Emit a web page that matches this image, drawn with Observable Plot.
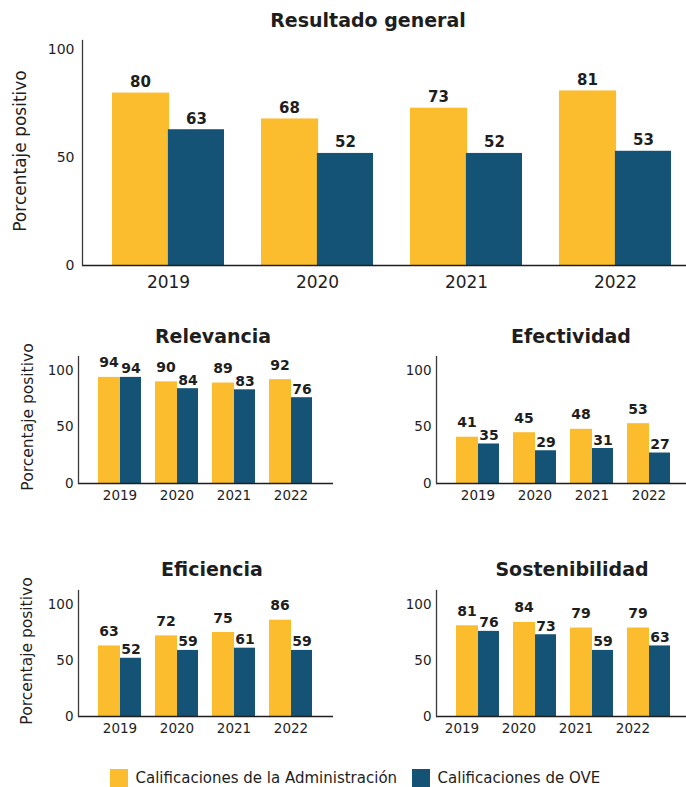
<!DOCTYPE html>
<html>
<head>
<meta charset="utf-8">
<script src="https://cdn.jsdelivr.net/npm/d3@7"></script>
<script src="https://cdn.jsdelivr.net/npm/@observablehq/plot@0.6"></script>
<style>
  html, body { margin: 0; padding: 0; background: #fff; }
  #page { position: relative; width: 686px; height: 787px; overflow: hidden;
          font-family: "DejaVu Sans", sans-serif; color: #1e1e1e; }
  .panel { position: absolute; }
  .title { position: absolute; font-weight: bold; font-size: 19px; white-space: nowrap;
           transform: translate(-50%, -50%); line-height: 1; }
  .ylabel { position: absolute; white-space: nowrap; line-height: 1;
            transform: translate(-50%, -50%) rotate(-90deg); }
  #legend { position: absolute; left: 110px; top: 761px; }
</style>
</head>
<body>
<div id="page"></div>
<script>
// Survey years and the two rating sources
const years = ["2019", "2020", "2021", "2022"];
const series = ["Calificaciones de la Administración", "Calificaciones de OVE"];
const colors = ["#FBBC2D", "#145375"];
const yTicks = [0, 50, 100];

// Percentage of positive ratings per year
const generalAdmin = [80, 68, 73, 81];
const generalOve = [63, 52, 52, 53];
const relevanciaAdmin = [94, 90, 89, 92];
const relevanciaOve = [94, 84, 83, 76];
const efectividadAdmin = [41, 45, 48, 53];
const efectividadOve = [35, 29, 31, 27];
const eficienciaAdmin = [63, 72, 75, 86];
const eficienciaOve = [52, 59, 61, 59];
const sostenibilidadAdmin = [81, 84, 79, 79];
const sostenibilidadOve = [76, 73, 59, 63];

const page = document.getElementById("page");
const FONT = "DejaVu Sans, sans-serif";

function toRows(admin, ove) {
  return years.flatMap((year, i) => [
    {year, series: series[0], value: admin[i]},
    {year, series: series[1], value: ove[i]}
  ]);
}

// One grouped-bar panel: each year band is split in half between the two sources
function panel(admin, ove, o) {
  const rows = toRows(admin, ove);
  const n = years.length;
  const step = (o.width - o.marginLeft - o.marginRight) / (n - o.paddingInner + 2 * o.paddingOuter);
  const half = step * (1 - o.paddingInner) / 2;
  const a = rows.filter((d) => d.series === series[0]);
  const b = rows.filter((d) => d.series === series[1]);
  return Plot.plot({
    width: o.width,
    height: o.height,
    marginLeft: o.marginLeft,
    marginRight: o.marginRight,
    marginTop: o.marginTop,
    marginBottom: o.marginBottom,
    style: {fontFamily: FONT, color: "#1e1e1e", background: "transparent", overflow: "visible"},
    x: {domain: years, paddingInner: o.paddingInner, paddingOuter: o.paddingOuter, align: o.align},
    y: {domain: [0, o.yMax]},
    color: {domain: series, range: colors},
    marks: [
      // the first bar reaches slightly under the second so no seam shows between them
      Plot.barY(a, {x: "year", y: "value", fill: "series", insetRight: half - 1}),
      Plot.barY(b, {x: "year", y: "value", fill: "series", insetLeft: half}),
      Plot.ruleY([0], {stroke: "#1e1e1e", strokeWidth: 1.6}),
      Plot.frame({anchor: "left", stroke: "#3a3a3a", strokeWidth: 1.3}),
      Plot.axisY(yTicks, {tickSize: 0, tickPadding: o.yPad, fontSize: o.tickFont, label: null}),
      Plot.axisX({tickSize: 0, tickPadding: o.xPad, fontSize: o.yearFont, label: null, dx: o.yearShift || 0}),
      Plot.text(a, {x: "year", y: "value", text: "value", dx: -half / 2, dy: -o.gapA,
                    lineAnchor: "bottom", fontWeight: "bold", fontSize: o.valueFont, fill: "#1e1e1e"}),
      Plot.text(b, {x: "year", y: "value", text: "value", dx: half / 2, dy: -o.gapB,
                    lineAnchor: "bottom", fontWeight: "bold", fontSize: o.valueFont, fill: "#1e1e1e"})
    ]
  });
}

function place(node, left, top) {
  node.classList.add("panel");
  node.style.left = left + "px";
  node.style.top = top + "px";
  page.appendChild(node);
}

function addText(cls, text, cx, cy, size) {
  const div = document.createElement("div");
  div.className = cls;
  div.textContent = text;
  div.style.left = cx + "px";
  div.style.top = cy + "px";
  if (size) div.style.fontSize = size + "px";
  page.appendChild(div);
}

// Overall result
place(panel(generalAdmin, generalOve, {
  width: 686, height: 300, marginLeft: 82, marginRight: 0, marginTop: 40, marginBottom: 35,
  paddingInner: 0.25, paddingOuter: 0.151, align: 0.667, yMax: 104.4,
  yPad: 8, xPad: 10, tickFont: 14, yearFont: 17, valueFont: 15, gapA: 6, gapB: 6
}), 0, 0);

// Criteria panels
const small = {
  width: 343, height: 200, marginLeft: 78, marginRight: 10, marginTop: 40,
  paddingInner: 0.2414, paddingOuter: 0.319, align: 0.486, yMax: 112.5,
  yPad: 5, xPad: 7, tickFont: 13.5, yearFont: 13.5, valueFont: 14, gapA: 10, gapB: 4
};
place(panel(relevanciaAdmin, relevanciaOve, {...small, marginBottom: 33}), 0, 316);
place(panel(efectividadAdmin, efectividadOve, {...small, marginBottom: 33}), 358, 316);
place(panel(eficienciaAdmin, eficienciaOve, {...small, marginBottom: 34}), 0, 550);
place(panel(sostenibilidadAdmin, sostenibilidadOve, {...small, marginBottom: 34, yearShift: -16}), 358, 550);

// Titles and axis labels
addText("title", "Resultado general", 368, 20);
addText("title", "Relevancia", 213, 336);
addText("title", "Efectividad", 571, 336);
addText("title", "Eficiencia", 212, 569);
addText("title", "Sostenibilidad", 572, 569);
addText("ylabel", "Porcentaje positivo", 20, 151, 17);
addText("ylabel", "Porcentaje positivo", 29, 417, 15.5);
addText("ylabel", "Porcentaje positivo", 28, 651, 15.5);

// Legend
const legend = Plot.legend({
  color: {domain: series, range: colors},
  swatchSize: 18,
  style: {fontFamily: FONT, fontSize: "15px", color: "#1e1e1e", margin: "0"}
});
legend.id = "legend";
page.appendChild(legend);
</script>
</body>
</html>
